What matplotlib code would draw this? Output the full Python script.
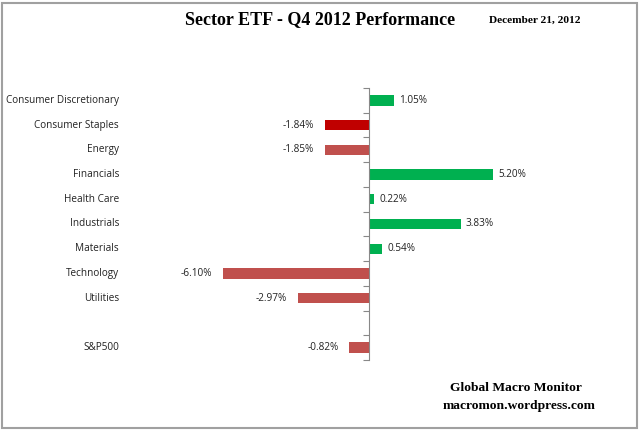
import matplotlib
matplotlib.use("Agg")
import matplotlib.pyplot as plt
import matplotlib.transforms as mtransforms
from matplotlib.patches import Rectangle

categories = ["Consumer Discretionary", "Consumer Staples", "Energy", "Financials",
              "Health Care", "Industrials", "Materials", "Technology", "Utilities",
              "", "S&P500"]
values = [1.05, -1.84, -1.85, 5.20, 0.22, 3.83, 0.54, -6.10, -2.97, None, -0.82]
labels = ["1.05%", "-1.84%", "-1.85%", "5.20%", "0.22%", "3.83%", "0.54%",
          "-6.10%", "-2.97%", "", "-0.82%"]
colors = ["#00B050", "#C00000", "#C0504D", "#00B050", "#00B050", "#00B050",
          "#00B050", "#C0504D", "#C0504D", "#FFFFFF", "#C0504D"]

W, H = 640, 430
fig = plt.figure(figsize=(6.4, 4.3), dpi=100)

ax_left, ax_right = 150, 600
ax_top, ax_bot = 88, 360
ax = fig.add_axes([ax_left / W, 1 - ax_bot / H, (ax_right - ax_left) / W, (ax_bot - ax_top) / H])

zero_px = 369
ppu = (369 - 223) / 6.10
ax.set_xlim(-(zero_px - ax_left) / ppu, (ax_right - zero_px) / ppu)
n = len(categories)
ax.set_ylim(n - 0.5, -0.5)

for i, (v, c) in enumerate(zip(values, colors)):
    if v is None:
        continue
    ax.barh(i, v, height=0.42, color=c, zorder=2)
    if v >= 0:
        ax.text(v + 0.22, i, labels[i], va="center", ha="left", fontsize=7.2,
                family="Open Sans", color="#222222")
    else:
        ax.text(v - 0.45, i, labels[i], va="center", ha="right", fontsize=7.2,
                family="Open Sans", color="#222222")

for s in ["top", "right", "bottom"]:
    ax.spines[s].set_visible(False)
ax.spines["left"].set_position(("data", 0))
ax.spines["left"].set_color("#888888")
ax.spines["left"].set_linewidth(0.8)
ax.set_yticks([i - 0.5 for i in range(n + 1)])
ax.set_yticklabels([])
ax.tick_params(axis="y", direction="out", length=4, color="#888888", width=0.8)
ax.set_xticks([])
ax.patch.set_alpha(0)

trans = mtransforms.blended_transform_factory(fig.transFigure, ax.transData)
for i, cat in enumerate(categories):
    if cat:
        fig.text(119 / W, i, cat, transform=trans, ha="right", va="center",
                 fontsize=7.2, family="Open Sans", color="#222222")

fig.text(320 / W, 1 - 20 / H, "Sector ETF - Q4 2012 Performance", ha="center", va="center",
         fontsize=13, fontweight="bold", family="Liberation Serif")
fig.text(535 / W, 1 - 20 / H, "December 21, 2012", ha="center", va="center",
         fontsize=8.2, fontweight="bold", family="Liberation Serif")
fig.text(516 / W, 1 - 388 / H, "Global Macro Monitor", ha="center", va="center",
         fontsize=9.7, fontweight="bold", family="Liberation Serif")
fig.text(519 / W, 1 - 406 / H, "macromon.wordpress.com", ha="center", va="center",
         fontsize=9.7, fontweight="bold", family="Liberation Serif")

fig.patches.append(Rectangle((2 / W, 2 / H), (W - 5) / W, (H - 5) / H, transform=fig.transFigure,
                             fill=False, edgecolor="#A0A0A0", linewidth=1.5))

fig.savefig("out.png", dpi=100, facecolor="white")
